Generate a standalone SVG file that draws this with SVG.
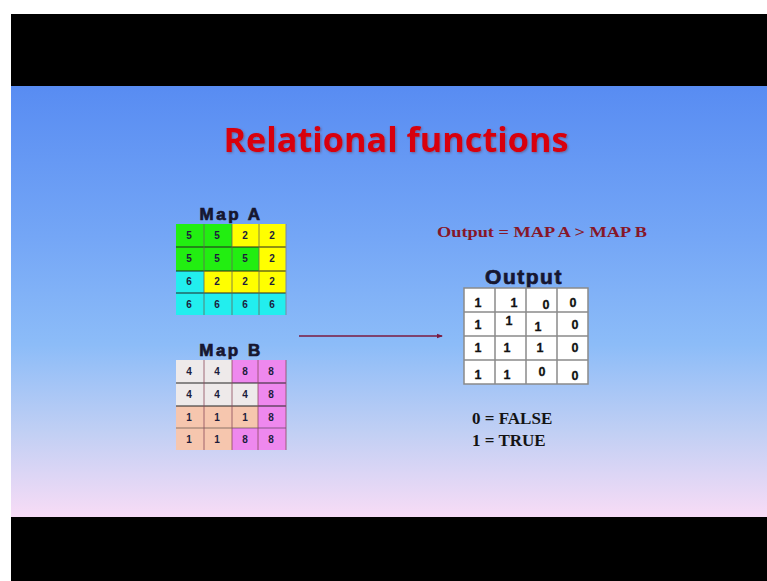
<svg xmlns="http://www.w3.org/2000/svg" width="767" height="581" viewBox="0 0 767 581">
<defs>
<linearGradient id="bg" x1="0" y1="0" x2="0" y2="1">
<stop offset="0" stop-color="#588cf2"/>
<stop offset="0.35" stop-color="#74a6f6"/>
<stop offset="0.6" stop-color="#8cbcf8"/>
<stop offset="0.8" stop-color="#c0cff4"/>
<stop offset="1" stop-color="#f8dcf6"/>
</linearGradient>
<marker id="ah" markerWidth="6" markerHeight="6" refX="5" refY="3" orient="auto" markerUnits="userSpaceOnUse">
<path d="M0,0.8 L6,3 L0,5.2 Z" fill="#7a1a40"/>
</marker>
<filter id="sh" x="-5%" y="-20%" width="110%" height="140%">
<feDropShadow dx="1" dy="1" stdDeviation="0.8" flood-color="#603040" flood-opacity="0.5"/>
</filter>
</defs>
<style>
.cell{font-family:"Liberation Sans",Arial,sans-serif;font-weight:bold;font-size:10px;fill:#1c1c3c;text-anchor:middle}
.out{font-family:"Liberation Sans",Arial,sans-serif;font-weight:bold;font-size:12.5px;fill:#111;stroke:#111;stroke-width:0.3;text-anchor:middle}
.hdr{font-family:"Liberation Sans",Arial,sans-serif;font-weight:bold;fill:#161630;stroke:#161630;stroke-width:0.7;text-anchor:middle}
.tms{font-family:"Liberation Serif","Times New Roman",serif;font-weight:bold}
.g{fill:#22ee11}.y{fill:#ffff00}.c{fill:#22eeee}
.w{fill:#eeeaea}.p{fill:#ee88ee}.k{fill:#f6c6ae}
.hl{stroke:#222;stroke-width:1}
.vl{stroke:#665;stroke-width:0.8}
.vlb{stroke:#8a4a5a;stroke-width:0.8}
.ol{stroke:#8a8a8a;stroke-width:1.5;fill:none}
</style>
<rect x="0" y="0" width="767" height="581" fill="#ffffff"/>
<rect x="11" y="14" width="756" height="72" fill="#000"/>
<rect x="11" y="86" width="756" height="431" fill="url(#bg)"/>
<rect x="11" y="517" width="756" height="64" fill="#000"/>

<g id="title">
<text x="396" y="152" font-family="'Open Sans','Liberation Sans',sans-serif" font-weight="bold" font-size="34" fill="#d8000c" text-anchor="middle" textLength="345" lengthAdjust="spacingAndGlyphs" filter="url(#sh)">Relational functions</text>
</g>

<g id="formula">
<text class="tms" x="437" y="237" font-size="15" fill="#861628" textLength="210" lengthAdjust="spacingAndGlyphs">Output = MAP A &gt; MAP B</text>
</g>

<g id="mapA">
<text class="hdr" x="231" y="220" font-size="17" letter-spacing="2.5">Map A</text>
<rect class="g" x="176" y="224" width="28" height="23"/>
<rect class="g" x="204" y="224" width="28" height="23"/>
<rect class="y" x="232" y="224" width="27" height="23"/>
<rect class="y" x="259" y="224" width="27" height="23"/>
<rect class="g" x="176" y="247" width="28" height="24"/>
<rect class="g" x="204" y="247" width="28" height="24"/>
<rect class="g" x="232" y="247" width="27" height="24"/>
<rect class="y" x="259" y="247" width="27" height="24"/>
<rect class="c" x="176" y="271" width="28" height="22"/>
<rect class="y" x="204" y="271" width="28" height="22"/>
<rect class="y" x="232" y="271" width="27" height="22"/>
<rect class="y" x="259" y="271" width="27" height="22"/>
<rect class="c" x="176" y="293" width="28" height="22"/>
<rect class="c" x="204" y="293" width="28" height="22"/>
<rect class="c" x="232" y="293" width="27" height="22"/>
<rect class="c" x="259" y="293" width="27" height="22"/>
<line class="hl" x1="176" y1="247" x2="286" y2="247"/>
<line class="hl" x1="176" y1="271" x2="286" y2="271"/>
<line class="hl" x1="176" y1="293" x2="286" y2="293"/>
<line class="vl" x1="204" y1="224" x2="204" y2="315"/>
<line class="vl" x1="232" y1="224" x2="232" y2="315"/>
<line class="vl" x1="259" y1="224" x2="259" y2="315"/>
<line stroke="#7a86a0" stroke-width="1" x1="286" y1="224" x2="286" y2="315"/>
<text class="cell" x="189" y="239">5</text><text class="cell" x="217" y="239">5</text><text class="cell" x="245" y="239">2</text><text class="cell" x="272" y="239">2</text>
<text class="cell" x="189" y="262">5</text><text class="cell" x="217" y="262">5</text><text class="cell" x="245" y="262">5</text><text class="cell" x="272" y="262">2</text>
<text class="cell" x="189" y="285">6</text><text class="cell" x="217" y="285">2</text><text class="cell" x="245" y="285">2</text><text class="cell" x="272" y="285">2</text>
<text class="cell" x="189" y="308">6</text><text class="cell" x="217" y="308">6</text><text class="cell" x="245" y="308">6</text><text class="cell" x="272" y="308">6</text>
</g>

<g id="mapB">
<text class="hdr" x="231" y="356" font-size="17" letter-spacing="2.5">Map B</text>
<rect class="w" x="176" y="360" width="28" height="23"/>
<rect class="w" x="204" y="360" width="28" height="23"/>
<rect class="p" x="232" y="360" width="26" height="23"/>
<rect class="p" x="258" y="360" width="28" height="23"/>
<rect class="w" x="176" y="383" width="28" height="23"/>
<rect class="w" x="204" y="383" width="28" height="23"/>
<rect class="w" x="232" y="383" width="26" height="23"/>
<rect class="p" x="258" y="383" width="28" height="23"/>
<rect class="k" x="176" y="406" width="28" height="22"/>
<rect class="k" x="204" y="406" width="28" height="22"/>
<rect class="k" x="232" y="406" width="26" height="22"/>
<rect class="p" x="258" y="406" width="28" height="22"/>
<rect class="k" x="176" y="428" width="28" height="22"/>
<rect class="k" x="204" y="428" width="28" height="22"/>
<rect class="p" x="232" y="428" width="26" height="22"/>
<rect class="p" x="258" y="428" width="28" height="22"/>
<line class="hl" x1="176" y1="383" x2="286" y2="383"/>
<line class="hl" x1="176" y1="406" x2="286" y2="406"/>
<line class="hl" x1="176" y1="428" x2="286" y2="428" stroke-opacity="0.5"/>
<line class="vlb" x1="204" y1="360" x2="204" y2="450"/>
<line class="vlb" x1="232" y1="360" x2="232" y2="450"/>
<line class="vlb" x1="258" y1="360" x2="258" y2="450"/>
<line class="vlb" x1="286" y1="360" x2="286" y2="450"/>
<text class="cell" x="189" y="375">4</text><text class="cell" x="217" y="375">4</text><text class="cell" x="245" y="375">8</text><text class="cell" x="271" y="375">8</text>
<text class="cell" x="189" y="398">4</text><text class="cell" x="217" y="398">4</text><text class="cell" x="245" y="398">4</text><text class="cell" x="271" y="398">8</text>
<text class="cell" x="189" y="421">1</text><text class="cell" x="217" y="421">1</text><text class="cell" x="245" y="421">1</text><text class="cell" x="271" y="421">8</text>
<text class="cell" x="189" y="443">1</text><text class="cell" x="217" y="443">1</text><text class="cell" x="245" y="443">8</text><text class="cell" x="271" y="443">8</text>
</g>

<g id="connectors">
<line x1="299" y1="336" x2="442" y2="336" stroke="#7a1a40" stroke-width="1.4" marker-end="url(#ah)"/>
</g>

<g id="output">
<text class="hdr" x="524" y="284" font-size="21" letter-spacing="1.5">Output</text>
<rect x="464" y="288" width="124" height="96" fill="#ffffff"/>
<rect class="ol" x="464" y="288" width="124" height="96"/>
<line class="ol" x1="495" y1="288" x2="495" y2="384"/>
<line class="ol" x1="526" y1="288" x2="526" y2="384"/>
<line class="ol" x1="557" y1="288" x2="557" y2="384"/>
<line class="ol" x1="464" y1="312" x2="588" y2="312"/>
<line class="ol" x1="464" y1="336" x2="588" y2="336"/>
<line class="ol" x1="464" y1="360" x2="588" y2="360"/>
<text class="out" x="478" y="307">1</text><text class="out" x="514" y="307">1</text><text class="out" x="546" y="309" font-size="11">0</text><text class="out" x="573" y="307" font-size="14">0</text>
<text class="out" x="478" y="329">1</text><text class="out" x="509" y="325">1</text><text class="out" x="538" y="331">1</text><text class="out" x="575" y="329">0</text>
<text class="out" x="478" y="352">1</text><text class="out" x="507" y="352">1</text><text class="out" x="540" y="352">1</text><text class="out" x="575" y="352">0</text>
<text class="out" x="478" y="379">1</text><text class="out" x="507" y="379">1</text><text class="out" x="542" y="376">0</text><text class="out" x="575" y="380">0</text>
</g>

<g id="legend">
<text class="tms" x="472" y="424" font-size="17" fill="#141414">0 = FALSE</text>
<text class="tms" x="472" y="446" font-size="17" fill="#141414">1 = TRUE</text>
</g>
</svg>
